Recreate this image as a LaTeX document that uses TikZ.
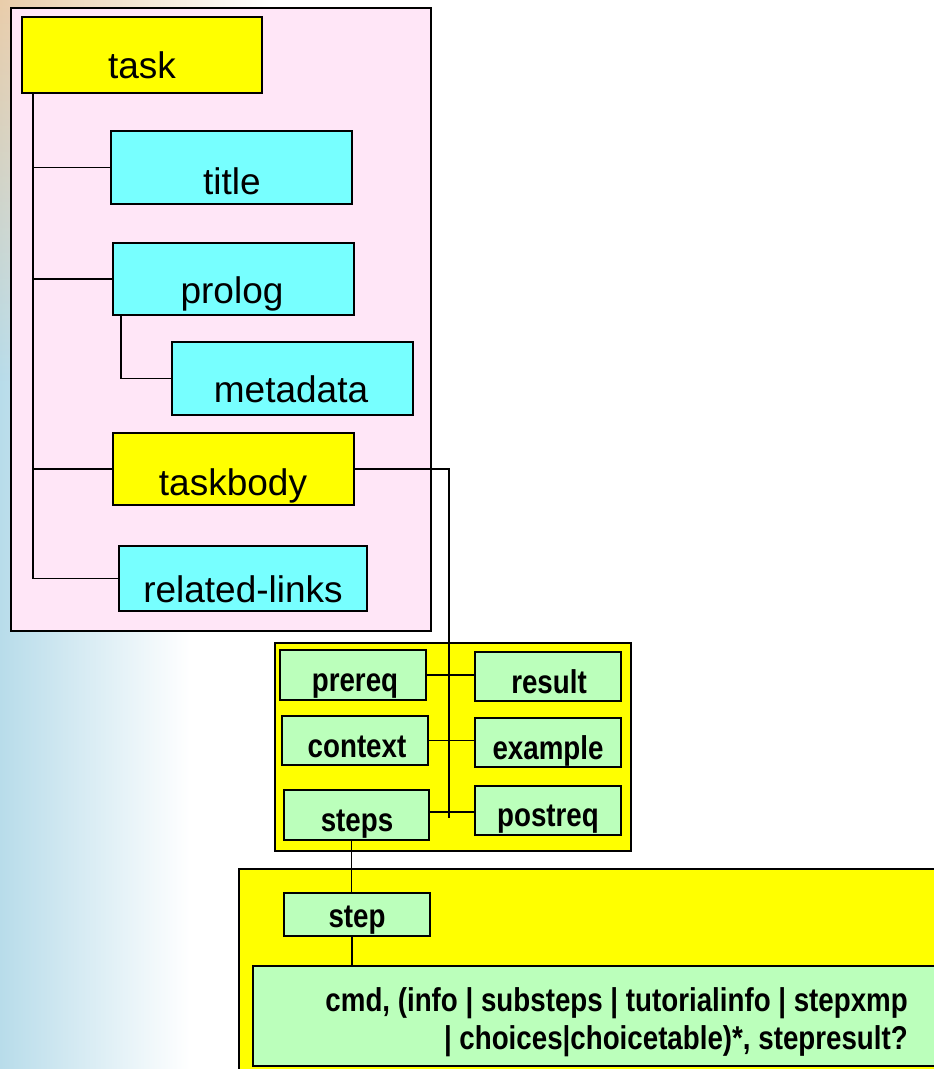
\documentclass[tikz,border=0pt]{standalone}
\usepackage{fontspec}
\setmainfont{Liberation Sans}
\newfontfamily\condbold[FakeStretch=0.84]{Liberation Sans Bold}
\usetikzlibrary{fadings}
\definecolor{pinkbg}{HTML}{FFE6F7}
\definecolor{cyanbox}{HTML}{77FFFF}
\definecolor{yellowbox}{HTML}{FFFF00}
\definecolor{greenbox}{HTML}{BBFFBB}
\definecolor{bgblue}{HTML}{B8DCEA}
\definecolor{bgorange}{HTML}{EACDAA}
\begin{document}
\begin{tikzpicture}[x=1pt,y=-1pt,
  box/.style={draw=black, line width=1.8pt, inner sep=0pt},
  group/.style={draw=black, line width=2pt, inner sep=0pt},
  conn/.style={draw=black, line width=1.9pt},
  reg/.style={font=\fontsize{37}{40}\selectfont, anchor=base, inner sep=0pt},
  bld/.style={font=\fontsize{33}{38}\condbold, anchor=base, inner sep=0pt}]
\useasboundingbox (0,0) rectangle (934,1069);
% background
\fill[white] (0,0) rectangle (934,1069);
\shade[left color=bgblue, right color=white] (0,0) rectangle (190,1069);
\shade[left color=bgorange, right color=white, path fading=south] (0,0) rectangle (270,380);
% outer groups
\node[group, fill=pinkbg, minimum width=420pt, minimum height=623pt] (taskgroup) at (221,319.5) {};
\node[group, fill=yellowbox, minimum width=356pt, minimum height=208pt] (bodygroup) at (453,747) {};
\node[group, fill=yellowbox, minimum width=711pt, minimum height=216pt] (stepgroup) at (594.5,977) {};
% task tree boxes
\node[box, fill=yellowbox, minimum width=240pt, minimum height=76pt] (task) at (142,55) {};
\node[box, fill=cyanbox, minimum width=241pt, minimum height=73pt] (title) at (231.5,167.5) {};
\node[box, fill=cyanbox, minimum width=241pt, minimum height=72pt] (prolog) at (233.5,279) {};
\node[box, fill=cyanbox, minimum width=241pt, minimum height=73pt] (metadata) at (292.5,378.5) {};
\node[box, fill=yellowbox, minimum width=241pt, minimum height=72pt] (taskbody) at (233.5,469) {};
\node[box, fill=cyanbox, minimum width=248pt, minimum height=65pt] (related) at (243,578.5) {};
% labels
\node[reg] (tasklbl) at (142,78) {task};
\node[reg] (titlelbl) at (232,194) {title};
\node[reg] (prologlbl) at (232,303) {prolog};
\node[reg] (metalbl) at (291,402) {metadata};
\node[reg] (bodylbl) at (233,495) {taskbody};
\node[reg] (rellbl) at (243,602) {related-links};
% taskbody content boxes
\node[box, fill=greenbox, minimum width=146pt, minimum height=50pt] (prereq) at (353,675) {};
\node[box, fill=greenbox, minimum width=146pt, minimum height=49pt] (result) at (548,676.5) {};
\node[box, fill=greenbox, minimum width=146pt, minimum height=49pt] (context) at (355,740.5) {};
\node[box, fill=greenbox, minimum width=146pt, minimum height=49pt] (example) at (548,742.5) {};
\node[box, fill=greenbox, minimum width=145pt, minimum height=50pt] (steps) at (356.5,815) {};
\node[box, fill=greenbox, minimum width=146pt, minimum height=49pt] (postreq) at (548,810.5) {};
\node[bld] (prereqlbl) at (355,691) {prereq};
\node[bld] (resultlbl) at (549,693) {result};
\node[bld] (contextlbl) at (357,757) {context};
\node[bld] (examplelbl) at (548,759) {example};
\node[bld] (stepslbl) at (357,831) {steps};
\node[bld] (postreqlbl) at (548,826) {postreq};
% step group
\node[box, fill=greenbox, minimum width=146pt, minimum height=43pt] (step) at (357,914.5) {};
\node[box, fill=greenbox, minimum width=692pt, minimum height=100pt] (cmdbox) at (599,1016) {};
\node[bld] (steplbl) at (357,927) {step};
\node[bld, anchor=base east] (cmdlbla) at (908,1011) {cmd, (info | substeps | tutorialinfo | stepxmp};
\node[bld, anchor=base east] (cmdlblb) at (908,1049) {| choices|choicetable)*, stepresult?};
% connectors
\coordinate (trunk) at ([xshift=12pt]task.south west);
\draw[conn] (trunk) |- (title.west);
\draw[conn] (trunk) |- (prolog.west);
\draw[conn] (trunk) |- (taskbody.west);
\draw[conn] (trunk) |- (related.west);
\coordinate (prologfoot) at ([xshift=9pt]prolog.south west);
\draw[conn] (prologfoot) |- (metadata.west);
\coordinate (bus) at (449,818);
\draw[conn] (taskbody.east) -| (bus);
\draw[conn] (prereq.east) -- (prereq.east -| result.west);
\draw[conn] (context.east) -- (context.east -| example.west);
\draw[conn] ([yshift=3pt]steps.east) -- ([yshift=3pt]steps.east -| postreq.west);
\coordinate (stepsfoot) at ([xshift=-5pt]steps.south);
\draw[conn] (stepsfoot) -- (stepsfoot |- step.north);
\coordinate (stepfoot) at ([xshift=-5pt]step.south);
\draw[conn] (stepfoot) -- (stepfoot |- cmdbox.north);
\end{tikzpicture}
\end{document}
